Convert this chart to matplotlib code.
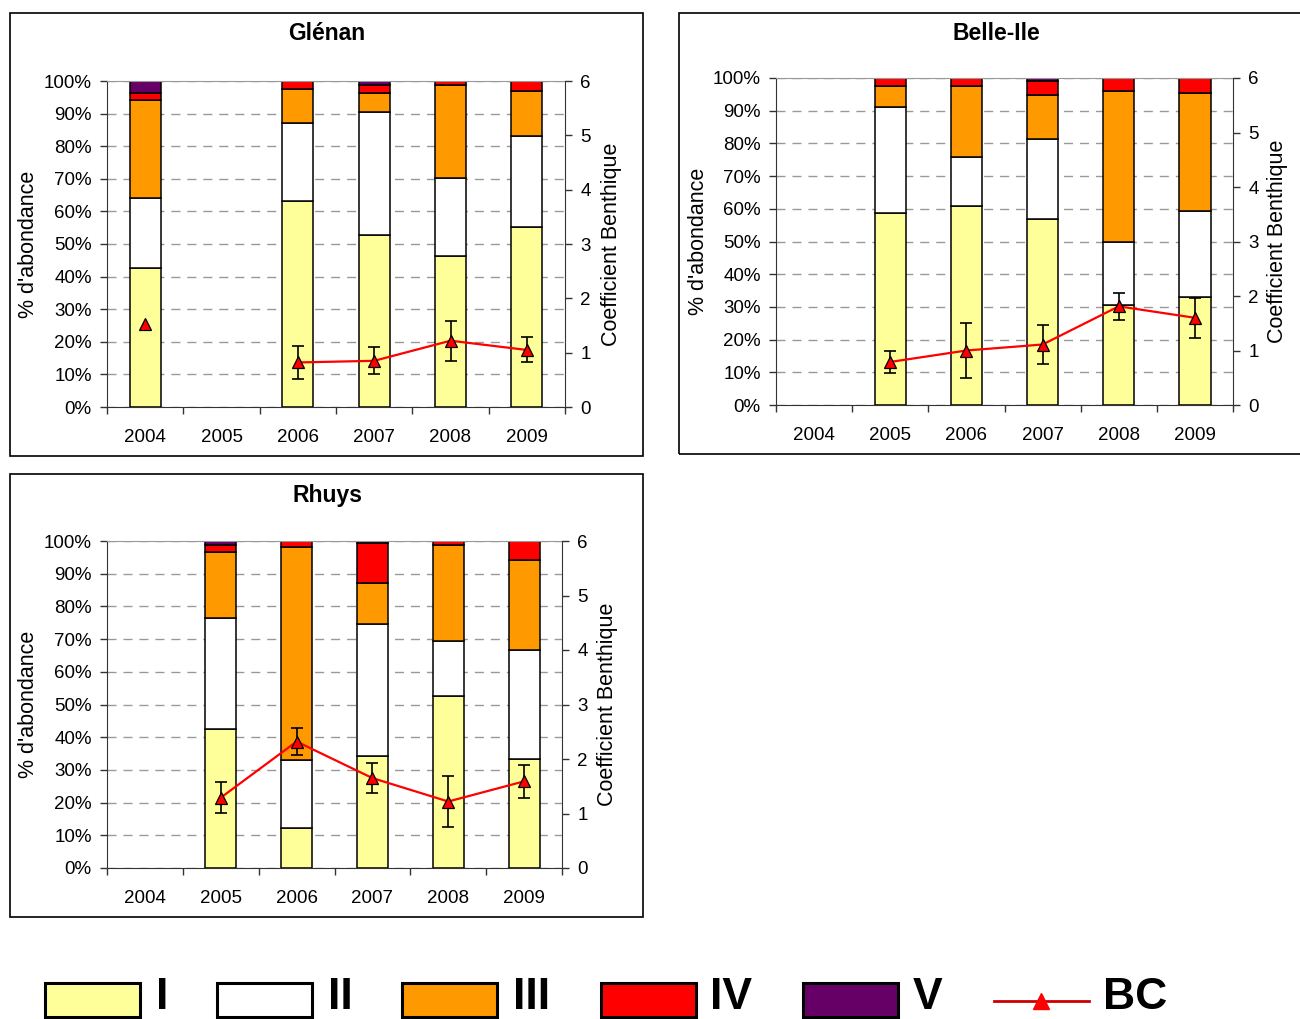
import numpy as np
import matplotlib
matplotlib.use('Agg')
import matplotlib.pyplot as plt
from matplotlib.patches import Rectangle
from matplotlib.lines import Line2D
from matplotlib.ticker import PercentFormatter, FixedLocator

plt.rcParams['font.family'] = ['Liberation Sans', 'DejaVu Sans']

nan = np.nan
years = ['2004', '2005', '2006', '2007', '2008', '2009']
groups = ['I', 'II', 'III', 'IV', 'V']
group_colors = ['#FFFF99', '#FFFFFF', '#FF9900', '#FF0000', '#660066']

# % abundance of each ecological group, per year
glenan_I = [42.6, nan, 63.2, 52.7, 46.4, 55.3]
glenan_II = [21.6, nan, 23.8, 37.7, 23.9, 27.8]
glenan_III = [30.0, nan, 10.5, 6.0, 28.5, 13.9]
glenan_IV = [2.2, nan, 2.5, 2.3, 1.2, 3.0]
glenan_V = [3.6, nan, 0.0, 1.3, 0.0, 0.0]
glenan_bc = [1.52, nan, 0.82, 0.85, 1.22, 1.05]
glenan_err = [nan, nan, 0.30, 0.25, 0.37, 0.23]

belle_I = [nan, 58.7, 60.9, 57.0, 30.7, 32.9]
belle_II = [nan, 32.4, 14.8, 24.3, 19.2, 26.4]
belle_III = [nan, 6.6, 22.0, 13.6, 46.1, 36.2]
belle_IV = [nan, 2.3, 2.3, 4.3, 4.0, 4.5]
belle_V = [nan, 0.0, 0.0, 0.8, 0.0, 0.0]
belle_bc = [nan, 0.79, 1.00, 1.11, 1.81, 1.60]
belle_err = [nan, 0.20, 0.50, 0.35, 0.25, 0.37]

rhuys_I = [nan, 42.4, 12.2, 34.2, 52.5, 33.2]
rhuys_II = [nan, 34.1, 20.9, 40.3, 17.0, 33.6]
rhuys_III = [nan, 20.0, 65.2, 12.8, 29.4, 27.5]
rhuys_IV = [nan, 2.3, 1.7, 12.0, 1.1, 5.7]
rhuys_V = [nan, 1.2, 0.0, 0.7, 0.0, 0.0]
rhuys_bc = [nan, 1.29, 2.32, 1.65, 1.22, 1.59]
rhuys_err = [nan, 0.28, 0.25, 0.27, 0.46, 0.30]

W, H = 1300, 1019
fig = plt.figure(figsize=(W / 100, H / 100), dpi=100)


def fx(px):
    return px / W


def fy(py):
    return 1 - py / H


def frame(l, t, r, b):
    fig.add_artist(Rectangle((fx(l), fy(b)), fx(r) - fx(l), fy(t) - fy(b),
                             transform=fig.transFigure, fill=False,
                             edgecolor='black', lw=1.2))


def panel(box, title, title_pos, stacks, bc, err, ylab_x, blab_x):
    l, t, r, b = box
    ax = fig.add_axes([fx(l), fy(b), fx(r) - fx(l), fy(t) - fy(b)])
    x = np.arange(len(years))
    bottom = np.zeros(len(years))
    for vals, col in zip(stacks, group_colors):
        vals = np.array(vals, dtype=float)
        ok = ~np.isnan(vals)
        ax.bar(x[ok], vals[ok], bottom=bottom[ok], width=0.41, color=col,
               edgecolor='black', lw=1.1, zorder=2)
        bottom[ok] += vals[ok]
    ax.set_xlim(-0.5, len(years) - 0.5)
    ax.set_ylim(0, 100)
    ax.set_yticks(np.arange(0, 101, 10))
    ax.yaxis.set_major_formatter(PercentFormatter(xmax=100, decimals=0))
    ax.set_xticks(x)
    ax.set_xticklabels(years)
    ax.xaxis.set_minor_locator(FixedLocator(np.arange(-0.5, len(years), 1)))
    ax.tick_params(axis='x', which='major', length=0, pad=16, labelsize=13.5)
    ax.tick_params(axis='x', which='minor', length=5, width=1, color='#333333', direction='out')
    ax.tick_params(axis='y', length=5, width=1, color='#333333', pad=6, labelsize=13.5)
    ax.set_axisbelow(True)
    ax.yaxis.grid(True, linestyle=(0, (6.5, 5)), color='#999999', lw=1)
    ax.spines['top'].set_color('#999999')
    ax.spines['right'].set_visible(False)
    for s in ('left', 'bottom'):
        ax.spines[s].set_color('#333333')

    ax2 = ax.twinx()
    ax2.set_ylim(0, 6)
    ax2.set_yticks(range(7))
    ax2.tick_params(axis='y', length=5, width=1, color='#333333', pad=6, labelsize=13.5)
    for s in ('left', 'top', 'bottom'):
        ax2.spines[s].set_visible(False)
    ax2.spines['right'].set_color('#333333')
    ax2.errorbar(x, bc, yerr=err, fmt='none', ecolor='black', elinewidth=1.2,
                 capsize=4.5, capthick=1.2, zorder=3)
    ax2.plot(x, bc, color='red', lw=1.6, marker='^', ms=9, mfc='red',
             mec='black', mew=0.9, zorder=4)

    fig.text(fx(title_pos[0]), fy(title_pos[1]), title, ha='center', va='baseline',
             fontsize=16.5, fontweight='bold')
    ymid = fy((t + b) / 2)
    fig.text(fx(ylab_x), ymid, "% d'abondance", rotation=90, ha='center', va='center',
             fontsize=15.5)
    fig.text(fx(blab_x), ymid, 'Coefficient Benthique', rotation=90, ha='center',
             va='center', fontsize=15.5)


frame(10, 13, 643, 456)
frame(679, 13, 1312, 454)
frame(10, 474, 643, 917)

panel((107, 81, 565, 407), 'Glénan', (327, 40),
      [glenan_I, glenan_II, glenan_III, glenan_IV, glenan_V],
      glenan_bc, glenan_err, 29, 611)
panel((776, 78, 1233, 405), 'Belle-Ile', (996, 40),
      [belle_I, belle_II, belle_III, belle_IV, belle_V],
      belle_bc, belle_err, 698, 1278)
panel((107, 541, 562, 868), 'Rhuys', (327, 502),
      [rhuys_I, rhuys_II, rhuys_III, rhuys_IV, rhuys_V],
      rhuys_bc, rhuys_err, 29, 607)

# legend along the bottom edge
patch_x = [45, 217, 402, 601, 803]
text_x = [156, 328, 513, 710, 913]
for px0, tx, name, col in zip(patch_x, text_x, groups, group_colors):
    fig.add_artist(Rectangle((fx(px0), fy(1017)), fx(95), fy(983) - fy(1017),
                             transform=fig.transFigure, facecolor=col,
                             edgecolor='black', lw=2.2))
    fig.text(fx(tx), fy(1018), name, ha='left', va='bottom', fontsize=32,
             fontweight='bold')
fig.add_artist(Line2D([fx(994), fx(1089)], [fy(1001), fy(1001)],
                      transform=fig.transFigure, color='#CC0000', lw=2))
fig.add_artist(Line2D([fx(1041)], [fy(1001)], transform=fig.transFigure,
                      marker='^', ms=12, color='red', mec='red'))
fig.text(fx(1103), fy(1018), 'BC', ha='left', va='bottom', fontsize=32,
         fontweight='bold')

fig.savefig('out.png', dpi=100)
